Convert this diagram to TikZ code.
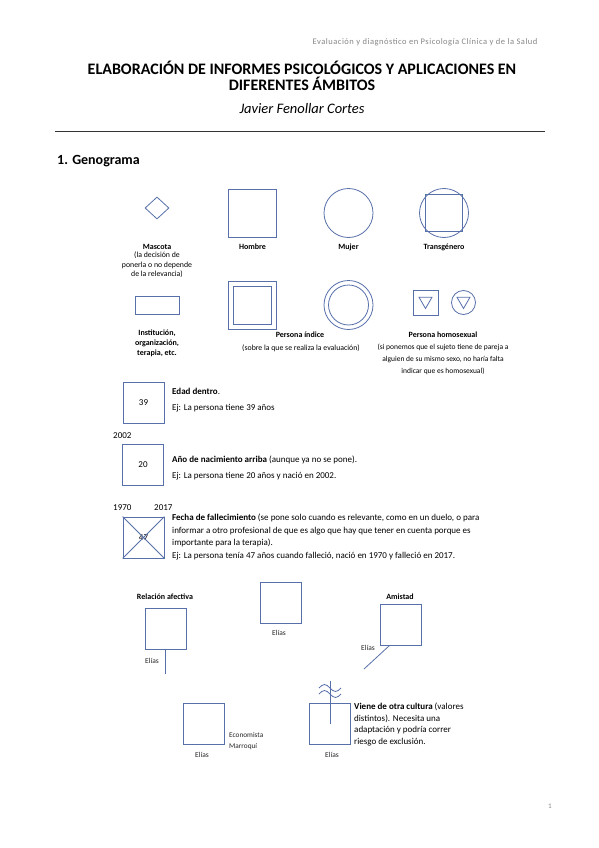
\documentclass[tikz,border=0pt]{standalone}
\usepackage{fontspec}
\setmainfont{Carlito}
\newfontfamily\cabfont[LetterSpace=6]{Carlito}
\usetikzlibrary{positioning,shapes.geometric}
\definecolor{simbolo}{RGB}{88,112,170}
\definecolor{cabecera}{RGB}{135,135,135}

\begin{document}
\begin{tikzpicture}[x=1pt,y=-1pt,
  simb/.style={draw=simbolo,line width=0.8pt,inner sep=0pt},
  caja/.style={simb,minimum size=41pt,font=\fontsize{9}{10}\selectfont},
  etiq/.style={font=\fontsize{8}{10}\selectfont\bfseries,align=center,inner sep=0pt},
  nota/.style={font=\fontsize{7.8}{9.5}\selectfont,align=center,inner sep=0pt,anchor=north},
  texto/.style={font=\fontsize{9}{12.5}\selectfont,align=left,anchor=north west,inner sep=0pt},
  nombre/.style={font=\fontsize{7.5}{9}\selectfont,text=black!85},
  rel/.style={draw=simbolo,line width=0.8pt}]
\fill[white] (0,0) rectangle (599,848);
\useasboundingbox (0,0) rectangle (599,848);

\node[anchor=east,text=cabecera,font=\fontsize{8.5}{10}\cabfont] (cabecera) at (541,42) {Evaluación y diagnóstico en Psicología Clínica y de la Salud};
\node[font=\fontsize{16}{16.5}\selectfont\bfseries,align=center] (titulo) at (302,76) {ELABORACIÓN DE INFORMES PSICOLÓGICOS Y APLICACIONES EN\\DIFERENTES ÁMBITOS};
\node[font=\fontsize{14.5}{16}\selectfont\itshape] (autor) [below of=titulo,node distance=33pt] {Javier Fenollar Cortes};
\coordinate (reglaini) at (55,131);
\coordinate (reglafin) at (545,131);
\draw[line width=0.8pt,black!80] (reglaini) -- (reglafin);
\node[anchor=west,inner sep=0pt,font=\fontsize{14}{16}\selectfont\bfseries] (seccion) at (57,161) {1. Genograma};

\node[simb,diamond,aspect=1,minimum width=24pt,minimum height=22pt] (mascota) at (157,208) {};
\node[simb,minimum size=48pt] (hombre) at (252.5,213) {};
\node[simb,circle,minimum size=49pt] (mujer) [right of=hombre,node distance=96pt] {};
\node[simb,circle,minimum size=49pt] (trans) [right of=mujer,node distance=95.5pt] {};
\node[simb,minimum size=37pt] (transcuadro) at (trans) {};

\node[etiq] (lmascota) at (157,247) {Mascota};
\node[nota] (nmascota) at (157,252) {(la decisión de\\ponerla o no depende\\de la relevancia)};
\node[etiq] (lhombre) at (252.5,247) {Hombre};
\node[etiq] (lmujer) at (348.5,247) {Mujer};
\node[etiq] (ltrans) at (444,247) {Transgénero};

\node[simb,minimum width=44pt,minimum height=18pt] (institucion) at (157,305) {};
\node[simb,minimum size=48pt] (indice) at (252,305) {};
\node[simb,minimum size=38pt] (indicein) at (indice) {};
\node[simb,circle,minimum size=49pt] (indicem) [right of=indice,node distance=96.5pt] {};
\node[simb,circle,minimum size=40pt] (indicemin) at (indicem) {};
\node[simb,minimum size=25pt] (homo) at (425.5,302.5) {};
\node[simb,circle,minimum size=24pt] (homom) [right of=homo,node distance=38pt] {};
\node[simb,regular polygon,regular polygon sides=3,shape border rotate=180,minimum size=15pt] (homotri) at ([yshift=1.5pt]homo) {};
\node[simb,regular polygon,regular polygon sides=3,shape border rotate=180,minimum size=15pt] (homomtri) at ([yshift=1.5pt]homom) {};

\node[etiq,anchor=north] (linstitucion) at (157,330) {Institución,\\organización,\\terapia, etc.};
\node[etiq] (lindice) at (300,335) {Persona índice};
\node[nota] (nindice) at (301,345) {(sobre la que se realiza la evaluación)};
\node[etiq] (lhomo) at (443,335) {Persona homosexual};
\node[nota,font=\fontsize{7.5}{12}\selectfont] (nhomo) at (443,344) {(si ponemos que el sujeto tiene de pareja a\\alguien de su mismo sexo, no haría falta\\indicar que es homosexual)};

\node[caja] (edad) at (143.5,403) {39};
\node[texto,font=\fontsize{9}{16}\selectfont] (tedad) at (172,388) {\textbf{Edad dentro}.\\Ej: La persona tiene 39 años};

\node[anchor=west,inner sep=0pt,font=\fontsize{9}{10}\selectfont] (anacido) at (113,436) {2002};
\node[caja] (nacido) at (143,464.5) {20};
\node[texto,font=\fontsize{9}{16}\selectfont] (tnacido) at (172,456) {\textbf{Año de nacimiento arriba} (aunque ya no se pone).\\Ej: La persona tiene 20 años y nació en 2002.};

\node[anchor=west,inner sep=0pt,font=\fontsize{9}{10}\selectfont] (anace) at (113,508) {1970};
\node[anchor=west,inner sep=0pt,font=\fontsize{9}{10}\selectfont] (amuere) at (154,508) {2017};
\node[caja] (muerto) at (143.5,537.5) {47};
\draw[rel]
(muerto.south west) -- (muerto.north east)
(muerto.south east) -- (muerto.north west);
\node[texto] (tmuerto) at (172,514) {\textbf{Fecha de fallecimiento} (se pone solo cuando es relevante, como en un duelo, o para\\informar a otro profesional de que es algo que hay que tener en cuenta porque es\\importante para la terapia).\\Ej: La persona tenía 47 años cuando falleció, nació en 1970 y falleció en 2017.};

\node[etiq] (lafectiva) at (165,597) {Relación afectiva};
\node[caja] (afectiva) at (165.5,628.5) {};
\coordinate (afectivafin) at (165.5,674);
\draw[rel] (afectiva.south) -- (afectivafin);
\node[nombre] (eafectiva) at (152,661) {Elías};

\node[caja] (neutro) at (281,603) {};
\node[nombre] (eneutro) at (279,633) {Elías};

\node[etiq] (lamistad) at (400,597) {Amistad};
\node[caja] (amistad) at (400.5,624.5) {};
\coordinate (amistadfin) at (364,669);
\draw[rel] ([xshift=10pt]amistad.south west) -- (amistadfin);
\node[nombre] (eamistad) at (368,648) {Elías};

\node[caja] (economista) at (203.5,724) {};
\node[nombre] (eeconomista) at (202,755) {Elías};
\node[anchor=north west,align=left,inner sep=0pt,font=\fontsize{7.3}{11}\selectfont,text=black!85] (teconomista) at (229,732) {Economista\\Marroquí};

\node[caja] (cultura) at (330,724) {};
\coordinate (culturatop) at (330,681);
\draw[rel] (cultura.center) -- (culturatop);
\draw[rel] (319,688) sin (324.5,684.5) cos (330,688) sin (335.5,691.5) cos (341,688);
\draw[rel] (319,694) sin (324.5,690.5) cos (330,694) sin (335.5,697.5) cos (341,694);
\node[nombre] (ecultura) at (332,755) {Elías};
\node[texto,font=\fontsize{9}{11.5}\selectfont] (tcultura) at (354,703) {\textbf{Viene de otra cultura} (valores\\distintos). Necesita una\\adaptación y podría correr\\riesgo de exclusión.};

\node[text=cabecera,font=\fontsize{7}{8}\selectfont] (pagina) at (550,806) {1};
\end{tikzpicture}
\end{document}
